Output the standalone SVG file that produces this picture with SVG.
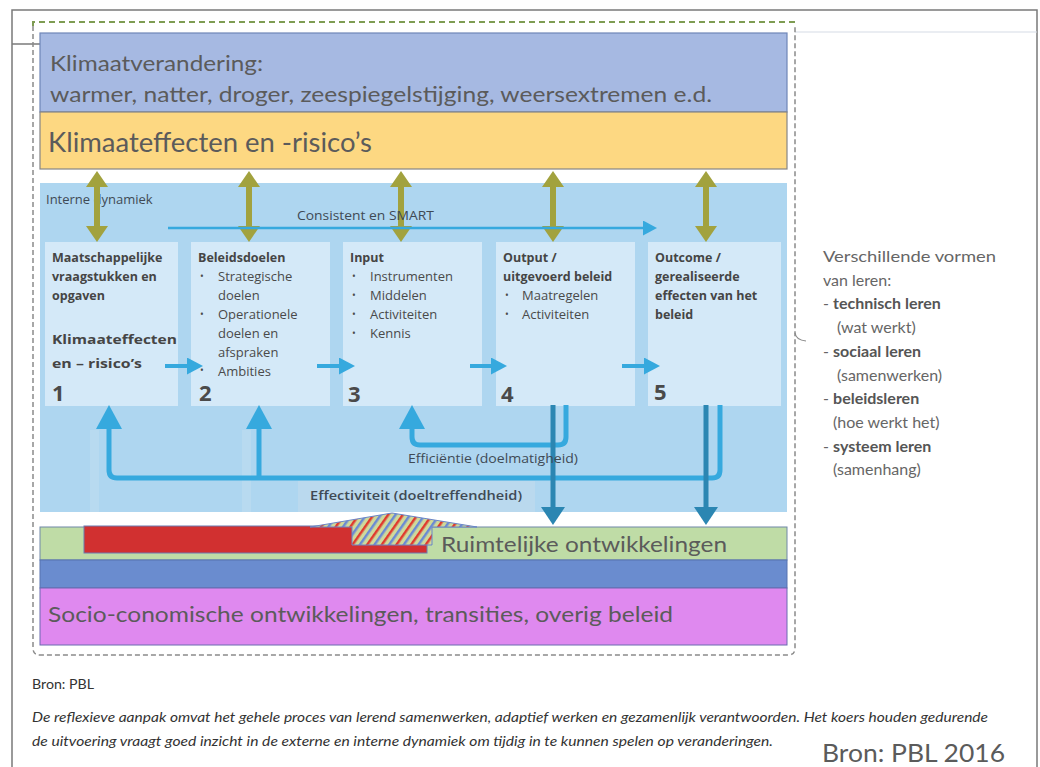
<svg xmlns="http://www.w3.org/2000/svg" width="1040" height="767" viewBox="0 0 1040 767">
  <style>
    .band { font-family: Lato, "Open Sans", "Liberation Sans", sans-serif; fill: #5b5b5b; }
    .boxtitle { font-family: "Open Sans", "Noto Sans", "Liberation Sans", sans-serif; font-weight: bold; font-size: 12.5px; fill: #454545; }
    .boxitem { font-family: "Open Sans", "Noto Sans", "Liberation Sans", sans-serif; font-size: 13px; fill: #4a4a4a; }
    .bullet { font-family: "Open Sans", "Noto Sans", "Liberation Sans", sans-serif; font-size: 10px; fill: #4a4a4a; }
    .num { font-family: "Open Sans", "Noto Sans", "Liberation Sans", sans-serif; font-weight: bold; font-size: 22px; fill: #4a4a4a; }
    .label { font-family: "Open Sans", "Noto Sans", "Liberation Sans", sans-serif; font-size: 13px; fill: #3f4a55; }
    .side { font-family: Lato, "Open Sans", "Liberation Sans", sans-serif; font-size: 16px; fill: #666; }
    .side tspan.b { font-weight: bold; fill: #555; }
    .note { font-family: Lato, "Liberation Sans", sans-serif; font-size: 13.5px; fill: #333; }
    .olive { stroke: #a2a23e; stroke-width: 6; fill: none; }
    .flow { stroke: #36a9de; stroke-width: 4; fill: none; }
    .loop { stroke: #36a9de; stroke-width: 5; fill: none; stroke-linejoin: round; }
    .down { stroke: #2b86b2; stroke-width: 5; fill: none; }
    .box { fill: #d4e9f8; }
  </style>
  <defs>
    <marker id="headOlive" viewBox="0 0 16 22" refX="2" refY="11" markerWidth="16" markerHeight="22" markerUnits="userSpaceOnUse" orient="auto-start-reverse">
      <path d="M0,0 L16,11 L0,22 z" fill="#a2a23e"/>
    </marker>
    <marker id="headFlow" viewBox="0 0 16 17" refX="2" refY="8.5" markerWidth="16" markerHeight="17" markerUnits="userSpaceOnUse" orient="auto">
      <path d="M0,0 L16,8.5 L0,17 z" fill="#36a9de"/>
    </marker>
    <marker id="headThin" viewBox="0 0 14 15" refX="2" refY="7.5" markerWidth="14" markerHeight="15" markerUnits="userSpaceOnUse" orient="auto">
      <path d="M0,0 L14,7.5 L0,15 z" fill="#36a9de"/>
    </marker>
    <marker id="headLoop" viewBox="0 0 24 26" refX="2" refY="13" markerWidth="24" markerHeight="26" markerUnits="userSpaceOnUse" orient="auto">
      <path d="M0,0 L24,13 L0,26 z" fill="#36a9de"/>
    </marker>
    <marker id="headDown" viewBox="0 0 18 24" refX="2" refY="12" markerWidth="18" markerHeight="24" markerUnits="userSpaceOnUse" orient="auto">
      <path d="M0,0 L18,12 L0,24 z" fill="#2b86b2"/>
    </marker>
    <pattern id="hatch" width="12" height="12" patternUnits="userSpaceOnUse" patternTransform="rotate(35)">
      <rect width="12" height="12" fill="#cfd99a"/>
      <rect x="0" width="2.5" height="12" fill="#e03a2e"/>
      <rect x="6" width="2.5" height="12" fill="#6a8ad4"/>
    </pattern>
  </defs>

  <!-- page frame -->
  <g id="frame" fill="none">
    <path d="M12,767 V10 H1037 V767" stroke="#7a7a7a" stroke-width="1.5"/>
    <line x1="12" y1="44" x2="42" y2="44" stroke="#7a7a7a" stroke-width="1.5"/>
    <line x1="795" y1="32" x2="1037" y2="32" stroke="#d5dbe5" stroke-width="1"/>
  </g>

  <!-- dashed system boundary -->
  <g id="boundary" fill="none">
    <path d="M33,26 V22 H795 V26" stroke="#7e9c52" stroke-width="2" stroke-dasharray="6 4"/>
    <path d="M33,26 V648 Q33,655 40,655 H788 Q795,655 795,648 V26" stroke="#8a8a8a" stroke-width="1.5" stroke-dasharray="5 3"/>
    <path d="M795,333 Q796,340 806,341" stroke="#8a8a8a" stroke-width="1.2"/>
  </g>

  <!-- external layers -->
  <g id="klimaatverandering">
    <rect x="40" y="33" width="747" height="79" fill="#a6b9e2" stroke="#6f86b8" stroke-width="1.2"/>
    <text class="band" x="50" y="71" font-size="22" textLength="213" lengthAdjust="spacingAndGlyphs">Klimaatverandering:</text>
    <text class="band" x="50" y="102" font-size="22" textLength="662" lengthAdjust="spacingAndGlyphs">warmer, natter, droger, zeespiegelstijging, weersextremen e.d.</text>
  </g>
  <g id="klimaateffecten">
    <rect x="40" y="112" width="747" height="57" fill="#fdd882" stroke="#858585" stroke-width="1.2"/>
    <text class="band" x="48" y="152" font-size="26" textLength="324" lengthAdjust="spacingAndGlyphs">Klimaateffecten en -risico’s</text>
  </g>

  <!-- internal dynamics panel -->
  <g id="interne-dynamiek">
    <rect x="40" y="183" width="747" height="329" fill="#aed6f0"/>
    <rect x="90" y="430" width="9" height="82" fill="#b8daf0"/>
    <rect x="242" y="430" width="9" height="82" fill="#b8daf0"/>
    <rect x="298" y="481" width="237" height="31" fill="#bad9ee"/>
    <text class="label" x="46" y="204" font-size="14" fill="#444">Interne dynamiek</text>
  </g>

  <g id="box1">
    <rect class="box" x="45" y="242" width="133" height="164"/>
    <text class="boxtitle" x="52" y="262">Maatschappelijke</text>
    <text class="boxtitle" x="52" y="281">vraagstukken en</text>
    <text class="boxtitle" x="52" y="300">opgaven</text>
    <text class="boxtitle" x="52" y="344" font-size="16.5" font-weight="600" textLength="125" lengthAdjust="spacingAndGlyphs">Klimaateffecten</text>
    <text class="boxtitle" x="52" y="368" font-size="16.5" font-weight="600" textLength="90" lengthAdjust="spacingAndGlyphs">en – risico’s</text>
    <text class="num" x="52" y="401">1</text>
  </g>
  <g id="box2">
    <rect class="box" x="191" y="242" width="139" height="164"/>
    <text class="boxtitle" x="198" y="262">Beleidsdoelen</text>
    <text class="bullet" x="200" y="280">•</text>
    <text class="boxitem" x="218" y="281">Strategische</text>
    <text class="boxitem" x="218" y="300">doelen</text>
    <text class="bullet" x="200" y="318">•</text>
    <text class="boxitem" x="218" y="319">Operationele</text>
    <text class="boxitem" x="218" y="338">doelen en</text>
    <text class="boxitem" x="218" y="357">afspraken</text>
    <text class="bullet" x="200" y="374">•</text>
    <text class="boxitem" x="218" y="376">Ambities</text>
    <text class="num" x="199" y="401">2</text>
  </g>
  <g id="box3">
    <rect class="box" x="343" y="242" width="139" height="164"/>
    <text class="boxtitle" x="350" y="262">Input</text>
    <text class="bullet" x="352" y="280">•</text>
    <text class="boxitem" x="370" y="281">Instrumenten</text>
    <text class="bullet" x="352" y="299">•</text>
    <text class="boxitem" x="370" y="300">Middelen</text>
    <text class="bullet" x="352" y="318">•</text>
    <text class="boxitem" x="370" y="319">Activiteiten</text>
    <text class="bullet" x="352" y="337">•</text>
    <text class="boxitem" x="370" y="338">Kennis</text>
    <text class="num" x="348" y="402">3</text>
  </g>
  <g id="box4">
    <rect class="box" x="496" y="242" width="139" height="164"/>
    <text class="boxtitle" x="503" y="262">Output /</text>
    <text class="boxtitle" x="503" y="281">uitgevoerd beleid</text>
    <text class="bullet" x="505" y="299">•</text>
    <text class="boxitem" x="522" y="300">Maatregelen</text>
    <text class="bullet" x="505" y="318">•</text>
    <text class="boxitem" x="522" y="319">Activiteiten</text>
    <text class="num" x="501" y="402">4</text>
  </g>
  <g id="box5">
    <rect class="box" x="648" y="242" width="133" height="164"/>
    <text class="boxtitle" x="655" y="262">Outcome /</text>
    <text class="boxtitle" x="655" y="281">gerealiseerde</text>
    <text class="boxtitle" x="655" y="300">effecten van het</text>
    <text class="boxtitle" x="655" y="319">beleid</text>
    <text class="num" x="654" y="400">5</text>
  </g>

  <!-- spatial and socio-economic layers -->
  <g id="ruimtelijke-ontwikkelingen">
    <rect x="40" y="527" width="747" height="33" fill="#bfdca6" stroke="#7088a8" stroke-width="1"/>
    <rect x="84" y="526" width="343" height="27" fill="#d13030" stroke="#6a7ab0" stroke-width="1"/>
    <path d="M310,527 L392,513 L477,527 L432,527 L432,545 L352,545 L352,527 Z" fill="url(#hatch)" stroke="#6a86c8" stroke-width="1"/>
    <text class="band" x="441" y="552" font-size="22" textLength="286" lengthAdjust="spacingAndGlyphs">Ruimtelijke ontwikkelingen</text>
  </g>
  <g id="tussenlaag">
    <rect x="40" y="560" width="747" height="28" fill="#6a8ccf" stroke="#5673b0" stroke-width="1"/>
  </g>
  <g id="socio-economisch">
    <rect x="40" y="588" width="747" height="57" fill="#df89ef" stroke="#6a6ab0" stroke-width="1"/>
    <text class="band" x="48" y="622" font-size="22" textLength="625" lengthAdjust="spacingAndGlyphs">Socio-conomische ontwikkelingen, transities, overig beleid</text>
  </g>

  <!-- connectors -->
  <g id="connectors">
    <!-- exchange with climate effects -->
    <line class="olive" x1="97" y1="185" x2="97" y2="228" marker-start="url(#headOlive)" marker-end="url(#headOlive)"/>
    <line class="olive" x1="249" y1="185" x2="249" y2="228" marker-start="url(#headOlive)" marker-end="url(#headOlive)"/>
    <line class="olive" x1="401" y1="185" x2="401" y2="228" marker-start="url(#headOlive)" marker-end="url(#headOlive)"/>
    <line class="olive" x1="553" y1="185" x2="553" y2="228" marker-start="url(#headOlive)" marker-end="url(#headOlive)"/>
    <line class="olive" x1="706" y1="185" x2="706" y2="228" marker-start="url(#headOlive)" marker-end="url(#headOlive)"/>

    <!-- consistency line -->
    <line x1="168" y1="228" x2="645" y2="228" stroke="#36a9de" stroke-width="2.5" marker-end="url(#headThin)"/>
    <text class="label" x="297" y="220" textLength="137" lengthAdjust="spacingAndGlyphs">Consistent en SMART</text>

    <!-- policy chain -->
    <line class="flow" x1="165" y1="366" x2="189" y2="366" marker-end="url(#headFlow)"/>
    <line class="flow" x1="317" y1="366" x2="341" y2="366" marker-end="url(#headFlow)"/>
    <line class="flow" x1="470" y1="366" x2="493" y2="366" marker-end="url(#headFlow)"/>
    <line class="flow" x1="622" y1="366" x2="646" y2="366" marker-end="url(#headFlow)"/>

    <!-- feedback loops -->
    <path class="loop" d="M720,405 V470 Q720,478 712,478 H117 Q109,478 109,470 V427" marker-end="url(#headLoop)"/>
    <line class="loop" x1="259" y1="478" x2="259" y2="427" marker-end="url(#headLoop)"/>
    <path class="loop" d="M566,405 V437 Q566,445 558,445 H420 Q412,445 412,437 V427" marker-end="url(#headLoop)"/>

    <!-- influence on spatial development -->
    <line class="down" x1="553" y1="405" x2="553" y2="509" marker-end="url(#headDown)"/>
    <line class="down" x1="706" y1="405" x2="706" y2="509" marker-end="url(#headDown)"/>

    <text class="label" x="408" y="463" textLength="170" lengthAdjust="spacingAndGlyphs">Efficiëntie (doelmatigheid)</text>
    <text class="label" x="310" y="500" font-size="14" font-weight="600" textLength="212" lengthAdjust="spacingAndGlyphs">Effectiviteit (doeltreffendheid)</text>
  </g>

  <!-- forms of learning -->
  <g id="leervormen">
    <text class="side" x="823" y="262" textLength="173" lengthAdjust="spacingAndGlyphs">Verschillende vormen</text>
    <text class="side" x="823" y="286">van leren:</text>
    <text class="side" x="823" y="309">- <tspan class="b">technisch leren</tspan></text>
    <text class="side" x="837" y="333">(wat werkt)</text>
    <text class="side" x="823" y="357">- <tspan class="b">sociaal leren</tspan></text>
    <text class="side" x="837" y="381">(samenwerken)</text>
    <text class="side" x="823" y="404">- <tspan class="b">beleidsleren</tspan></text>
    <text class="side" x="833" y="428">(hoe werkt het)</text>
    <text class="side" x="823" y="452">- <tspan class="b">systeem leren</tspan></text>
    <text class="side" x="833" y="475">(samenhang)</text>
  </g>

  <!-- source and caption -->
  <g id="bron">
    <text class="note" x="32" y="689" textLength="62" lengthAdjust="spacingAndGlyphs">Bron: PBL</text>
    <text class="note" x="32" y="722" font-style="italic" textLength="956" lengthAdjust="spacingAndGlyphs">De reflexieve aanpak omvat het gehele proces van lerend samenwerken, adaptief werken en gezamenlijk verantwoorden. Het koers houden gedurende</text>
    <text class="note" x="32" y="746" font-style="italic" textLength="741" lengthAdjust="spacingAndGlyphs">de uitvoering vraagt goed inzicht in de externe en interne dynamiek om tijdig in te kunnen spelen op veranderingen.</text>
    <text class="band" x="822" y="762" font-size="25" textLength="183" lengthAdjust="spacingAndGlyphs">Bron: PBL 2016</text>
  </g>
</svg>
